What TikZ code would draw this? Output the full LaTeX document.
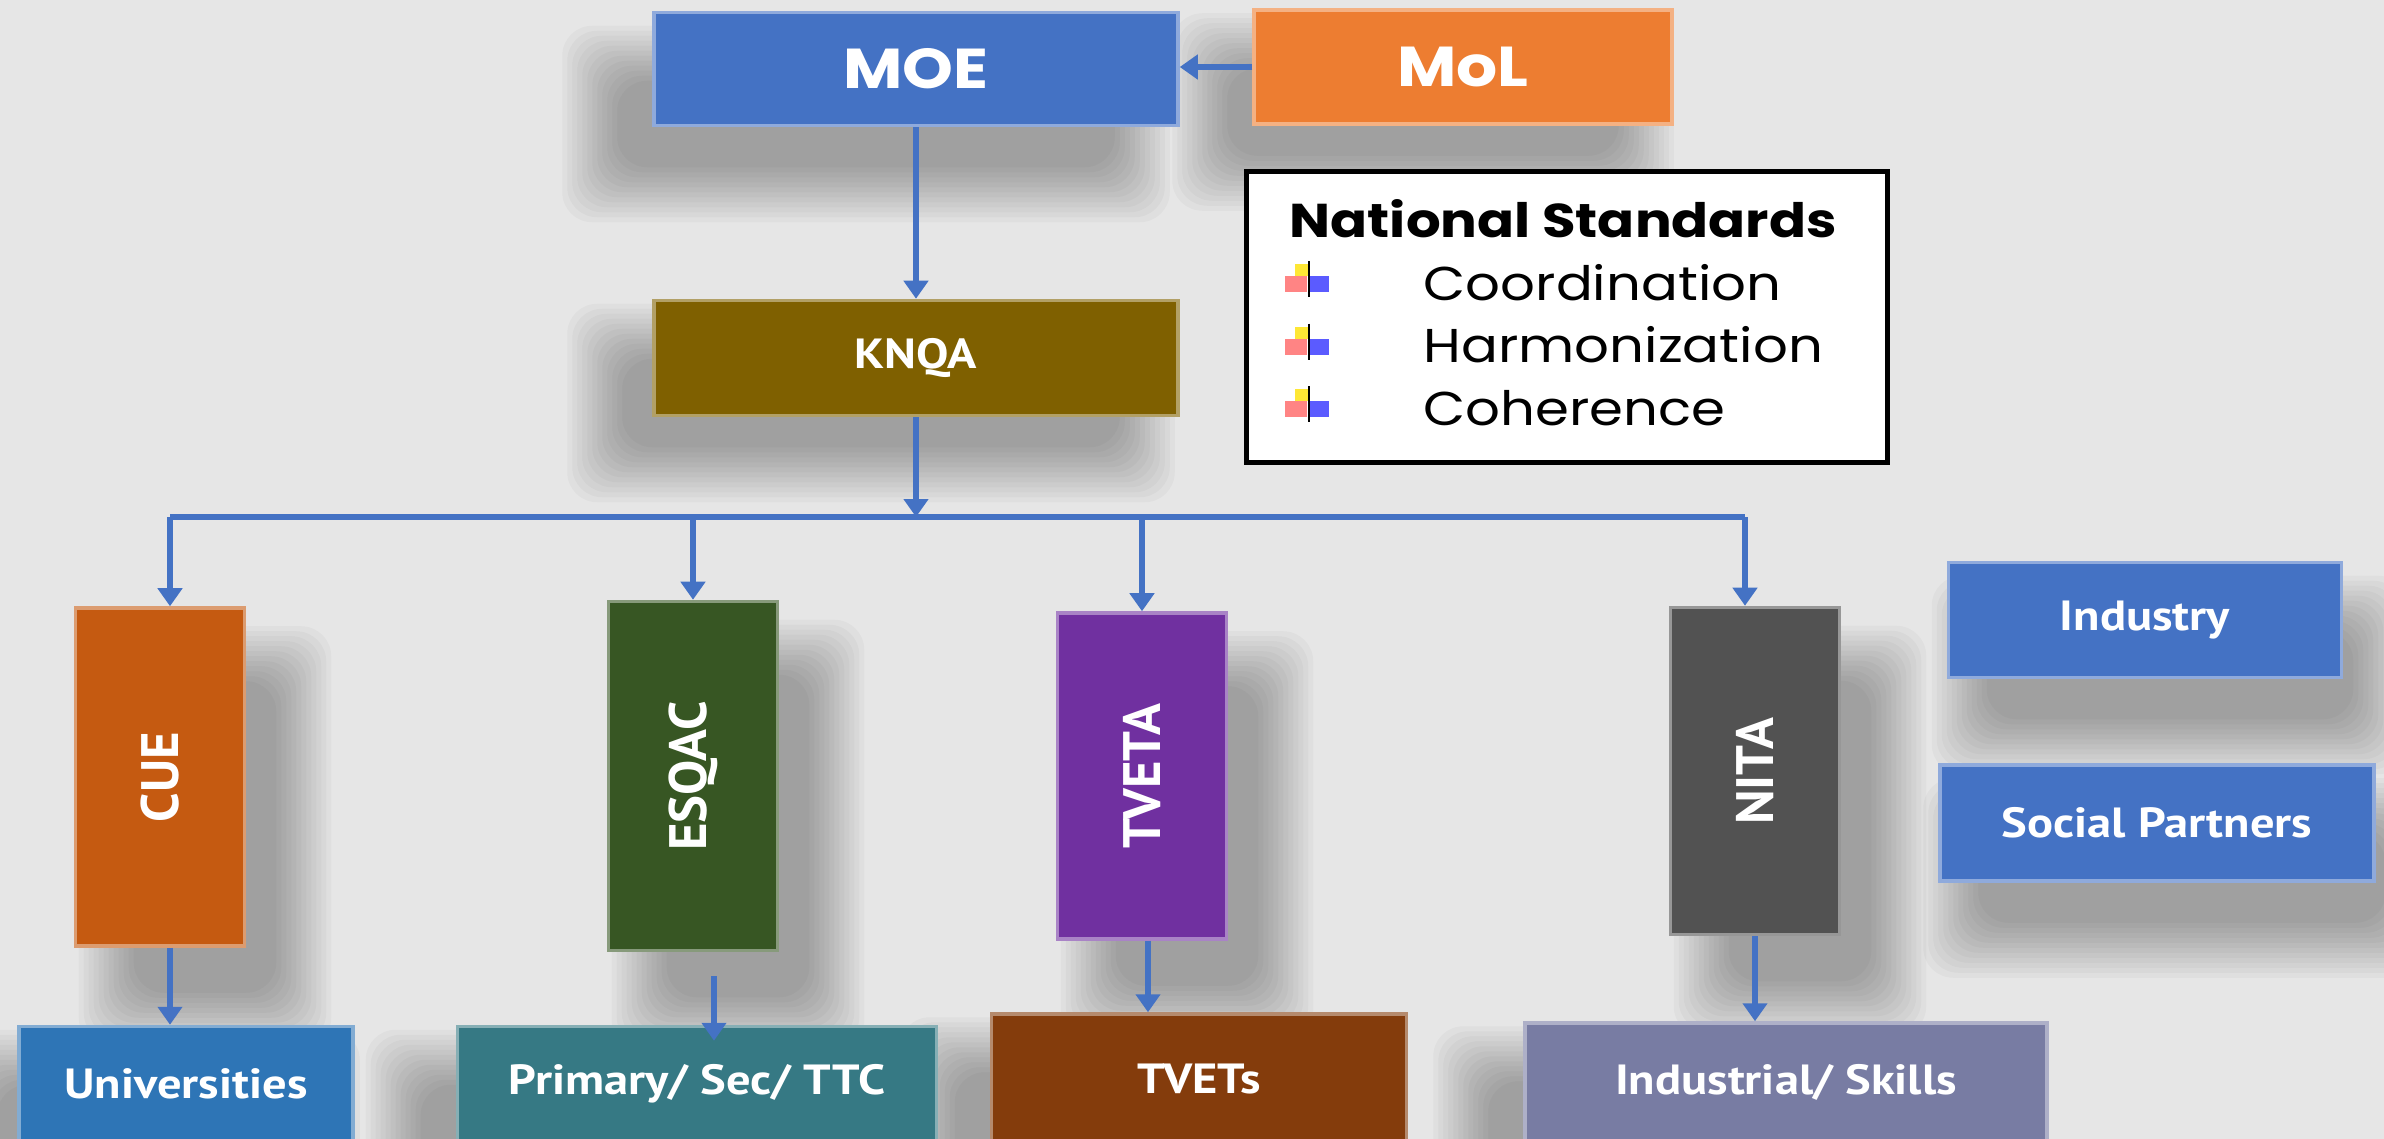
\documentclass[tikz,border=0pt]{standalone}
\usepackage{fontspec}
\usepackage{graphicx}
\usetikzlibrary{arrows.meta,backgrounds}
\newfontfamily\headfont[FakeStretch=1.15]{Poppins}
\newfontfamily\boxfont[FakeStretch=1.15]{PT Sans}
\newfontfamily\sidefont{PT Sans}
\definecolor{bggray}{HTML}{E6E6E6}
\definecolor{linkblue}{HTML}{4472C4}
\definecolor{moeblue}{HTML}{4472C4}
\definecolor{molorange}{HTML}{ED7D31}
\definecolor{knqagold}{HTML}{7F6000}
\definecolor{cueorange}{HTML}{C55A11}
\definecolor{esqgreen}{HTML}{375623}
\definecolor{tvetpurple}{HTML}{7030A0}
\definecolor{nitagray}{HTML}{525252}
\definecolor{univblue}{HTML}{2E75B6}
\definecolor{primteal}{HTML}{367984}
\definecolor{tvetsbrown}{HTML}{843C0C}
\definecolor{indslate}{HTML}{787CA3}
\begin{document}
\begin{tikzpicture}[x=0.1mm,y=-0.1mm,
    box/.style={draw=#1!60!white, fill=#1, line width=1pt, text=white, inner sep=0pt},
    wide/.style={minimum width=#1, minimum height=11.5mm, font=\boxfont\bfseries\fontsize{12}{14}\selectfont},
    tall/.style={minimum width=16.9mm, minimum height=#1, font=\sidefont\bfseries\fontsize{15}{17}\selectfont},
    nsitem/.style={anchor=base west, inner sep=0pt, font=\headfont\fontsize{13.5}{16}\selectfont},
    shadowstep/.style={fill=black, opacity=.028, rounded corners=3mm},
    link/.style={draw=linkblue, line width=1.7pt, >={Triangle[length=1.8mm,width=2.4mm]}}]
  \useasboundingbox (0,0) rectangle (2384,1139);
  \clip (0,0) rectangle (2384,1139);
  % top
  \node[box=moeblue, minimum width=52.4mm, minimum height=11.3mm, font=\headfont\bfseries\fontsize{16}{18}\selectfont] (moe) at (916,69) {MOE};
  \node[box=molorange, minimum width=41.8mm, minimum height=11.4mm, font=\headfont\bfseries\fontsize{16}{18}\selectfont] (mol) at (1463,67) {MoL};
  \node[box=knqagold, wide=52.4mm] (knqa) at (916,358) {KNQA};
  \node[draw=black, line width=1.3pt, fill=white, minimum width=64.1mm, minimum height=29.1mm] (nsbox) at (1567,317) {};
  \node[anchor=base west, inner sep=0pt, font=\headfont\bfseries\fontsize{13.5}{16}\selectfont] (nstitle) at (1289,237) {National Standards};
  \foreach \nsword [count=\i] in {Coordination,Harmonization,Coherence}{
    \node[nsitem] (ns\i) at (1423,{300+62.5*(\i-1)}) {\nsword};
    \begin{scope}[shift={(1309,{280+62.5*(\i-1)})}]
      \fill[yellow!85!orange, opacity=.8] (-14,-16) rectangle (0,-4);
      \fill[red!60, opacity=.8] (-24,-4) rectangle (-2,12);
      \fill[blue!80, opacity=.8] (0,-4) rectangle (20,12);
      \draw[black, line width=0.8pt] (0,-19) -- (0,17);
    \end{scope}
  }
  % middle
  \node[box=cueorange, tall=33.8mm] (cue) at (160,777) {\rotatebox{90}{CUE}};
  \node[box=esqgreen, tall=34.9mm] (esqac) at (693,776) {\rotatebox{90}{ESQAC}};
  \node[box=tvetpurple, tall=32.6mm] (tveta) at (1142,776) {\rotatebox{90}{TVETA}};
  \node[box=nitagray, tall=32.7mm] (nita) at (1755,771) {\rotatebox{90}{NITA}};
  \node[box=moeblue, wide=39.3mm] (industry) at (2145,620) {Industry};
  \node[box=moeblue, wide=43.4mm, minimum height=11.6mm] (social) at (2157,823) {Social Partners};
  % bottom
  \node[box=univblue, wide=33.4mm] (univ) at (186,1084) {Universities};
  \node[box=primteal, wide=47.9mm] (primary) at (697,1084) {Primary/ Sec/ TTC};
  \node[box=tvetsbrown, wide=41.5mm, minimum height=13mm] (tvets) at (1199,1079) {TVETs};
  \node[box=indslate, wide=52.2mm, minimum height=11.8mm] (indus) at (1786,1082) {Industrial/ Skills};
  % shadows
  \begin{pgfonlayer}{background}
    \fill[bggray] (0,0) rectangle (2384,1139);
    \foreach \n/\dx/\dy in {moe/-50/55, mol/-40/45, knqa/-45/45, cue/45/60, esqac/45/60, tveta/45/60, nita/45/60,
        industry/25/55, social/25/55, univ/-35/45, primary/-50/45, tvets/-50/45, indus/-50/45}
      \foreach \k in {0,...,11}
        \fill[shadowstep] ([shift={(\dx-40+5*\k,\dy-40+5*\k)}]\n.north west) rectangle ([shift={(\dx+40-5*\k,\dy+40-5*\k)}]\n.south east);
  \end{pgfonlayer}
  % links
  \coordinate (bus) at (916,517);
  \draw[link,->] (mol.west) -- (mol.west -| moe.east);
  \draw[link,->] (moe.south) -- (knqa.north);
  \draw[link,->] (knqa.south) -- (bus);
  \draw[link] ([xshift=1mm]cue.north |- bus) -- ([xshift=-1mm]nita.north |- bus);
  \draw[link,->] ([xshift=1mm]cue.north |- bus) -- ([xshift=1mm]cue.north);
  \draw[link,->] (esqac.north |- bus) -- (esqac.north);
  \draw[link,->] (tveta.north |- bus) -- (tveta.north);
  \draw[link,->] ([xshift=-1mm]nita.north |- bus) -- ([xshift=-1mm]nita.north);
  \draw[link,->] ([xshift=1mm]cue.south) -- ([xshift=1mm]cue.south |- univ.north);
  \draw[link,->,shorten <=2.4mm] ([xshift=2.1mm]esqac.south) -- ([xshift=2.1mm,yshift=-1.6mm]esqac.south |- primary.north);
  \draw[link,->] ([xshift=0.6mm]tveta.south) -- ([xshift=0.6mm]tveta.south |- tvets.north);
  \draw[link,->] (nita.south) -- (nita.south |- indus.north);
\end{tikzpicture}
\end{document}
